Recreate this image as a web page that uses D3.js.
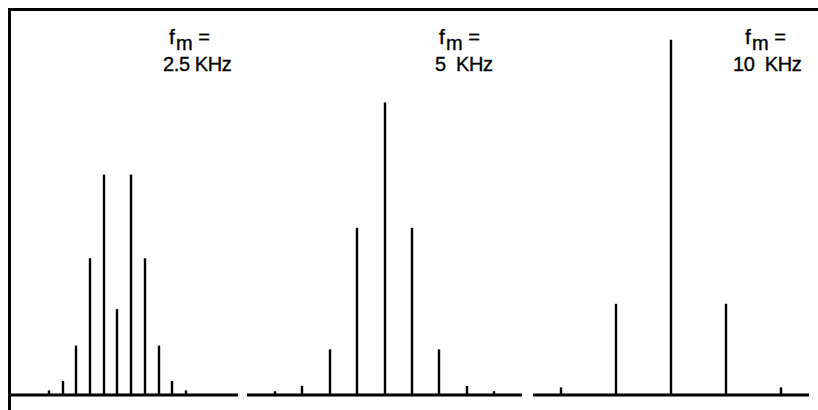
<!DOCTYPE html>
<html>
<meta charset="utf-8">
  <head>
    <script src="https://d3js.org/d3.v7.min.js"></script>
    <style>
      body { margin: 0; background: #fff; }
      text { font-family: "Liberation Sans", Arial, sans-serif; white-space: pre;
             fill: #000; stroke: #000; stroke-width: 0.35px; letter-spacing: -0.4px; }
    </style>
  </head>
  <body>
    <div id="my_dataviz"></div>
    <script>

    // modulating frequencies (kHz) and the label under "fm ="
    var fm = [2.5, 5, 10];
    var fmLabels = ["2.5 KHz", "5  KHz", "10  KHz"];

    // spectral line heights (relative amplitude), sideband order -n..+n
    var amp25 = [0.012, 0.037, 0.13, 0.36, 0.58, 0.226, 0.58, 0.36, 0.13, 0.037, 0.012];
    var amp5  = [0.01, 0.024, 0.12, 0.44, 0.77, 0.44, 0.12, 0.024, 0.01];
    var amp10 = [0.02, 0.24, 0.935, 0.24, 0.02];
    var amps = [amp25, amp5, amp10];

    var width = 818, height = 410;
    var base = 395;

    // each panel: x extent in kHz from the carrier and where it sits on the page
    var panels = [
      {dom: [-19.6, 22], range: [10, 238], lx: 163, fx: 169},
      {dom: [-25.1, 25.1], range: [247, 522], lx: 435, fx: 439},
      {dom: [-25.1, 25.1], range: [533, 809], lx: 733, fx: 745}
    ];

    var svg = d3.select("#my_dataviz")
      .append("svg")
        .attr("width", width)
        .attr("height", height);

    var y = d3.scaleLinear().domain([0, 1]).range([base, base - 380]);

    // frame: top rule and left axis
    svg.append("line")
      .attr("x1", 8).attr("x2", width)
      .attr("y1", 9.5).attr("y2", 9.5)
      .attr("stroke", "#000").attr("stroke-width", 3);
    svg.append("line")
      .attr("x1", 9.5).attr("x2", 9.5)
      .attr("y1", 8).attr("y2", height)
      .attr("stroke", "#000").attr("stroke-width", 3);

    panels.forEach(function(p, i) {
      var x = d3.scaleLinear().domain(p.dom).range(p.range);
      var a = amps[i];
      var n = (a.length - 1) / 2;
      var lines = a.map(function(v, k) { return {f: (k - n) * fm[i], v: v}; });

      var g = svg.append("g");

      // baseline
      g.append("line")
        .attr("x1", x(p.dom[0])).attr("x2", x(p.dom[1]))
        .attr("y1", base).attr("y2", base)
        .attr("stroke", "#000").attr("stroke-width", 3);

      // spectral lines
      g.selectAll("line.spec")
        .data(lines)
        .enter()
        .append("line")
          .attr("class", "spec")
          .attr("x1", function(d) { return Math.round(x(d.f)); })
          .attr("x2", function(d) { return Math.round(x(d.f)); })
          .attr("y1", y(0))
          .attr("y2", function(d) { return y(d.v); })
          .attr("stroke", "#000")
          .attr("stroke-width", 2.4);

      // label
      var t = g.append("text")
        .attr("x", p.fx).attr("y", 44)
        .style("font-size", "20px");
      t.append("tspan").style("font-size", "21px").text("f");
      t.append("tspan").attr("dx", 1.5).attr("dy", 6).text("m");
      t.append("tspan").attr("dx", 1).attr("dy", -6).text(" =");

      g.append("text")
        .attr("x", p.lx).attr("y", 71)
        .style("font-size", "20px")
        .text(fmLabels[i]);
    });

    </script>
  </body>
</html>
